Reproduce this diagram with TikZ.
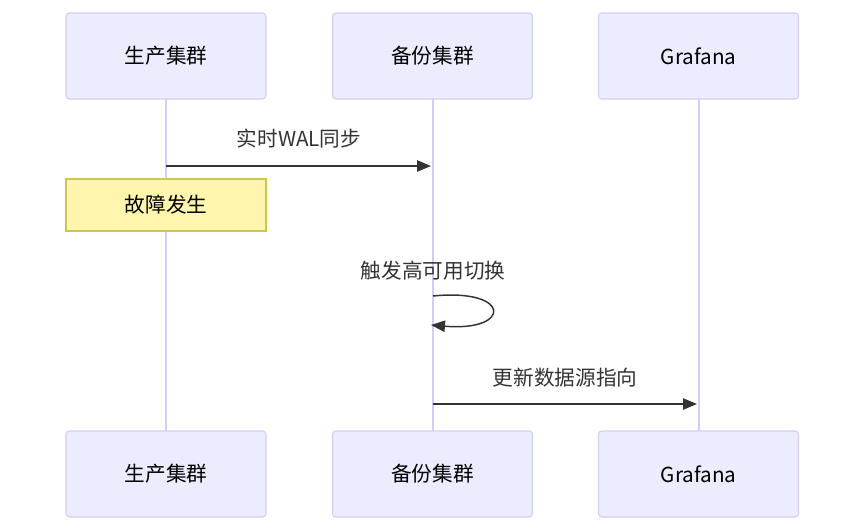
\documentclass[tikz,border=0pt]{standalone}
\usepackage{fontspec}
\setmainfont{Noto Sans CJK SC}
\usetikzlibrary{arrows.meta}
\definecolor{actfill}{HTML}{ECECFF}
\definecolor{actline}{HTML}{D5CCF5}
\definecolor{notefill}{HTML}{FFF5AD}
\definecolor{noteline}{HTML}{C8C850}
\definecolor{msg}{HTML}{333333}
\tikzset{
  actor/.style={draw=actline, fill=actfill, rounded corners=2.5pt, line width=0.8pt,
    minimum width=150pt, minimum height=64.5pt, inner sep=0pt, font=\fontsize{15.5}{18}\selectfont, text=black},
  notebox/.style={draw=noteline, fill=notefill, line width=0.8pt,
    minimum width=150pt, minimum height=39pt, inner sep=0pt, font=\fontsize{15.5}{18}\selectfont, text=black},
  lifeline/.style={draw=actline, line width=1.5pt},
  msgline/.style={draw=msg, line width=1.1pt, -{Triangle[length=10.5pt,width=8.5pt]}},
  msglabel/.style={font=\fontsize{15.5}{18}\selectfont, text=msg, inner sep=0pt}
}
\begin{document}
\begin{tikzpicture}[x=0.75pt,y=-0.75pt]
\useasboundingbox (0,0) rectangle (865,532);
% lifelines
\draw[lifeline] (166,99) -- (166,431);
\draw[lifeline] (432.5,99) -- (432.5,431);
\draw[lifeline] (698.5,99) -- (698.5,431);
% actors
\node[actor] (a1) at (166,56) {生产集群};
\node[actor] (a2) at (432.5,56) {备份集群};
\node[actor] (a3) at (698.5,56) {Grafana};
\node[actor] (b1) at (166,474) {生产集群};
\node[actor] (b2) at (432.5,474) {备份集群};
\node[actor] (b3) at (698.5,474) {Grafana};
% message 1
\coordinate (m1s) at (166,166);
\coordinate (m1e) at (431,166);
\draw[msgline] (m1s) -- (m1e);
\node[msglabel] (l1) at (299,139) {实时WAL同步};
% note
\node[notebox] (n1) at (166,205) {故障发生};
% self loop
\coordinate (s1) at (433,296);
\coordinate (s2) at (431,325);
\draw[msgline] (s1) .. controls (512,288) and (512,332) .. (s2);
\node[msglabel] (l2) at (433,271) {触发高可用切换};
% message 3
\coordinate (m3s) at (432.5,404);
\coordinate (m3e) at (697,404);
\draw[msgline] (m3s) -- (m3e);
\node[msglabel] (l3) at (565,378) {更新数据源指向};
\end{tikzpicture}
\end{document}
